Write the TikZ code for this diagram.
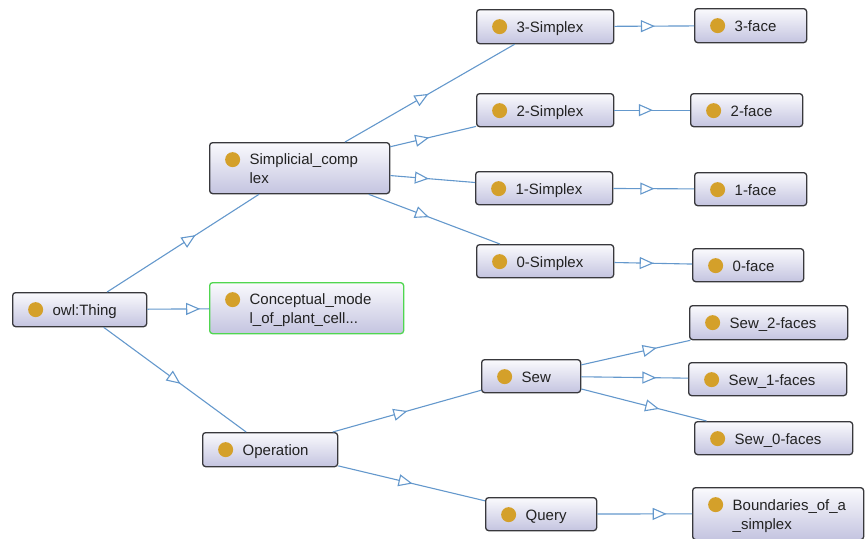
\documentclass[tikz,border=0pt]{standalone}
\usepackage{fontspec}
\setmainfont{Liberation Sans}
\usetikzlibrary{arrows.meta,decorations.markings}
\definecolor{edgec}{RGB}{100,152,204}
\definecolor{borderc}{RGB}{56,56,60}
\definecolor{topc}{RGB}{250,250,253}
\definecolor{botc}{RGB}{196,196,224}
\definecolor{dotc}{RGB}{212,160,42}
\definecolor{textc}{RGB}{34,34,34}
\definecolor{greenc}{RGB}{80,214,80}
\newcommand\mystrut{\rule[-3pt]{0pt}{18pt}}
\newcommand\isalink[2]{%
  \draw[edge] (#1) -- (#2);
  \path[edgec, arrowmark] (#1.center) -- (#2.center);}
\tikzset{
  cls/.style n args={2}{draw=borderc, line width=1.3pt, rounded corners=3pt,
    top color=topc, bottom color=botc, anchor=north west,
    inner xsep=0pt, inner ysep=0pt, text width=#1pt, minimum width=#1pt,
    minimum height=#2pt, align=left, font=\fontsize{15}{19}\selectfont,
    text=textc,
    execute at begin node={\leftskip=40pt\relax\mystrut},
    execute at end node={\mystrut},
    path picture={\fill[dotc] ([xshift=23pt,yshift=-17pt]path picture bounding box.north west) circle (7.5pt);}},
  edge/.style={draw=edgec, line width=1.1pt},
  arrowmark/.style={postaction={decorate}, decoration={markings,
    mark=at position 0.5 with {\arrow[xshift=7pt]{Triangle[length=14pt,width=12pt,fill=white,line width=1.1pt]}}}}
}
\begin{document}
\begin{tikzpicture}[x=1pt,y=-1pt]
\useasboundingbox (0,0) rectangle (866,538);
\node[cls={134}{34}] (thing) at (12,292) {owl:Thing};
\node[cls={180}{51}] (simp) at (209,142) {Simplicial\_comp\\lex};
\node[cls={194}{51}, draw=greenc] (concept) at (209,282) {Conceptual\_mode\\l\_of\_plant\_cell...};
\node[cls={135}{34}] (oper) at (202,432) {Operation};
\node[cls={137}{34}] (s3) at (476,9) {3-Simplex};
\node[cls={137}{33}] (s2) at (476,93) {2-Simplex};
\node[cls={137}{33}] (s1) at (475,171) {1-Simplex};
\node[cls={137}{33}] (s0) at (476,244) {0-Simplex};
\node[cls={112}{34}] (f3) at (694,8) {3-face};
\node[cls={112}{33}] (f2) at (690,93) {2-face};
\node[cls={112}{33}] (f1) at (694,172) {1-face};
\node[cls={111}{33}] (f0) at (692,248) {0-face};
\node[cls={99}{33}] (sew) at (481,359) {Sew};
\node[cls={158}{34}] (sew2) at (689,305) {Sew\_2-faces};
\node[cls={158}{33}] (sew1) at (688,362) {Sew\_1-faces};
\node[cls={158}{33}] (sew0) at (694,421) {Sew\_0-faces};
\node[cls={111}{33}] (query) at (485,497) {Query};
\node[cls={171}{52}] (bound) at (692,487) {Boundaries\_of\_a\\\_simplex};
\isalink{thing}{simp}
\isalink{thing}{concept}
\isalink{thing}{oper}
\isalink{simp}{s3}
\isalink{simp}{s2}
\isalink{simp}{s1}
\isalink{simp}{s0}
\isalink{s3}{f3}
\isalink{s2}{f2}
\isalink{s1}{f1}
\isalink{s0}{f0}
\isalink{oper}{sew}
\isalink{oper}{query}
\isalink{sew}{sew2}
\isalink{sew}{sew1}
\isalink{sew}{sew0}
\isalink{query}{bound}
\end{tikzpicture}
\end{document}
